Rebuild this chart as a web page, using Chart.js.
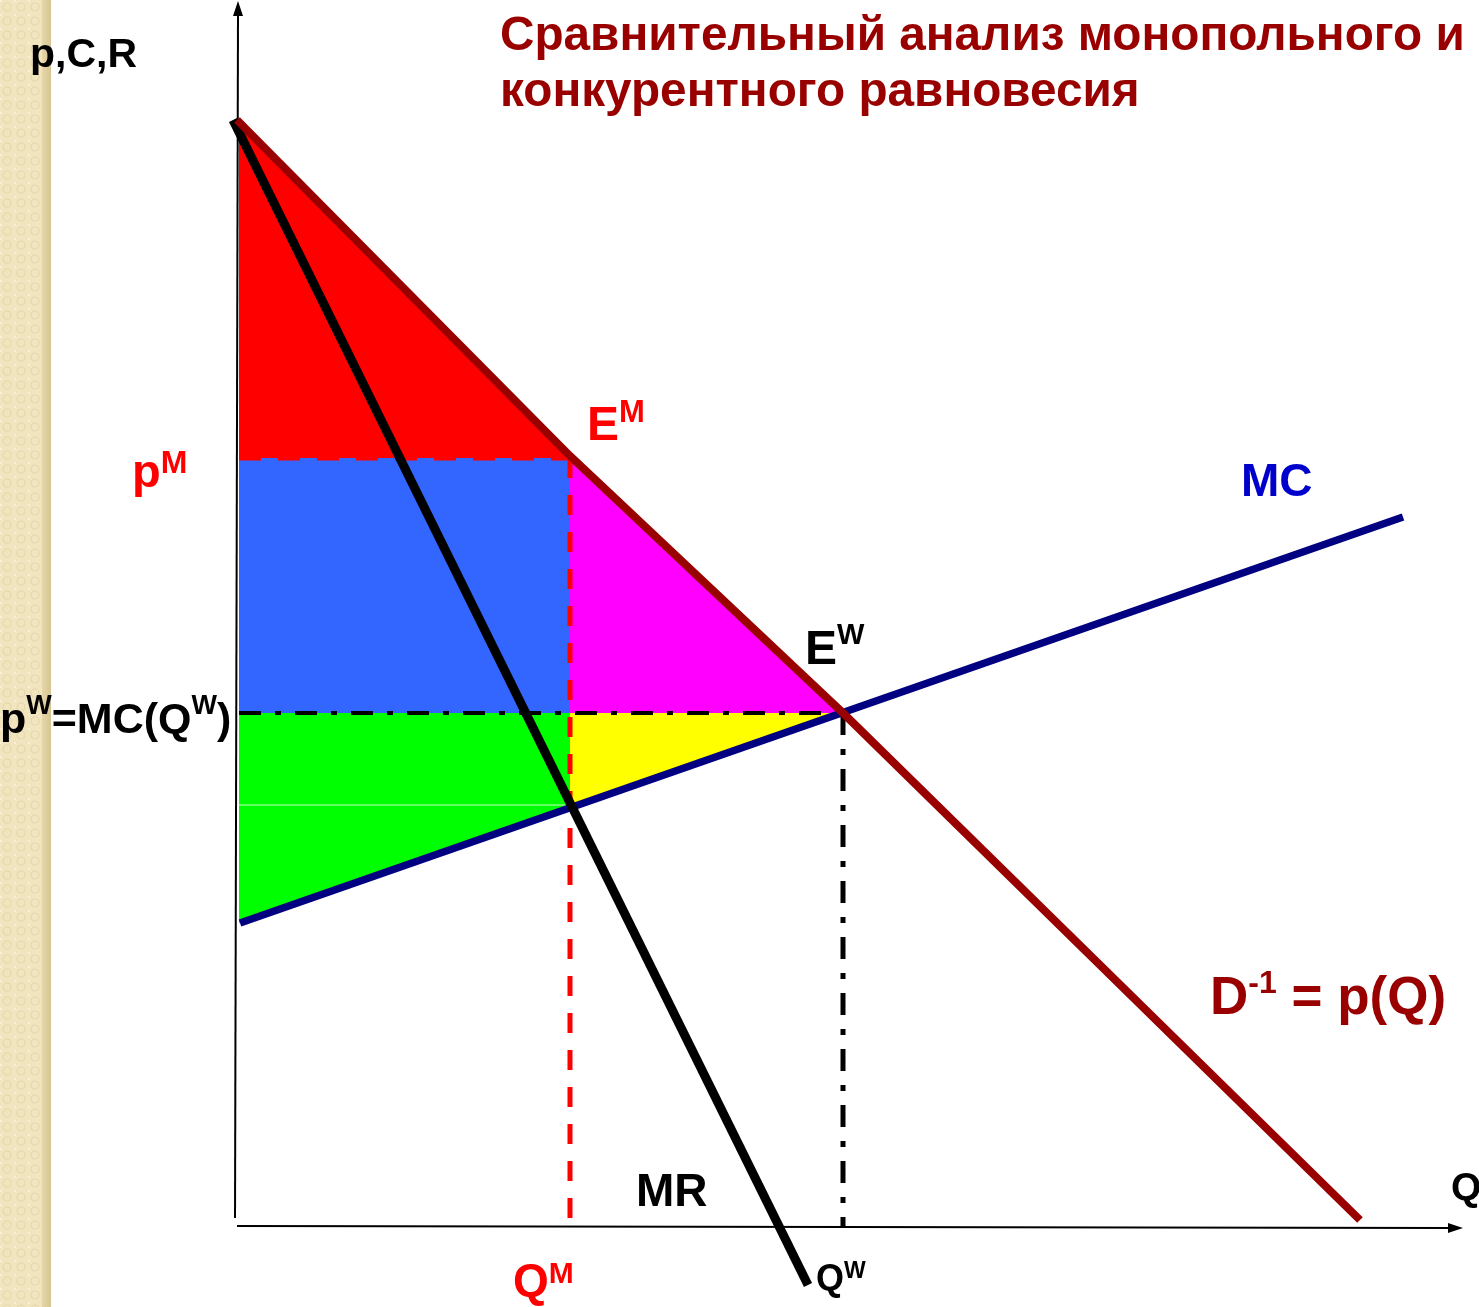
<!DOCTYPE html>
<html>
<head>
<meta charset="utf-8">
<script src="https://cdn.jsdelivr.net/npm/chart.js@4.4.1/dist/chart.umd.min.js"></script>
<style>
  html, body { margin: 0; padding: 0; background: #ffffff; overflow: hidden; }
  canvas { display: block; }
</style>
</head>
<body>
<canvas id="c" width="1479" height="1307"></canvas>
<script>
// ---- values (Q along x, p along y) ----
const qAxisLine   = [[0, 0], [1213, -2]];
const pAxisLine   = [[-2, 8], [1, 1212]];
const demandQ     = [0, 333, 606, 1123];
const demandP     = [1106, 770, 513, 6];
const mrQ         = [-4, 571];
const mrP         = [1106, -59];
const mcQ         = [3, 1166];
const mcP         = [303, 709];
const pMono = 768, qMono = 333;
const pComp = 513, qComp = 606;
const mcAtQMono = 421;
const fillStartQ = 2;

const pts = (qs, ps) => qs.map((q, i) => ({ x: q, y: ps[i] }));
const poly = arr => arr.concat([arr[0]]).map(([x, y]) => ({ x, y }));

const redArea     = poly([[fillStartQ, 1104], [qMono, pMono], [fillStartQ, pMono]]);
const blueArea    = poly([[fillStartQ, pMono], [qMono, pMono], [qMono, pComp], [fillStartQ, pComp]]);
const magentaArea = poly([[qMono, pMono], [qComp, pComp], [qMono, pComp]]);
const yellowArea  = poly([[qMono, pComp], [qComp, pComp], [qMono, mcAtQMono]]);
const greenTop    = poly([[fillStartQ, pComp], [qMono, pComp], [qMono, mcAtQMono], [fillStartQ, mcAtQMono]]);
const greenBottom = poly([[fillStartQ, mcAtQMono], [qMono, mcAtQMono], [fillStartQ, mcP[0]]]);

function area(data, color) {
  return { data, showLine: true, fill: 'shape', backgroundColor: color,
           borderColor: 'transparent', borderWidth: 0, pointRadius: 0, order: 10, tension: 0 };
}
function line(data, color, width, dash, order) {
  return { data, showLine: true, fill: false, borderColor: color, borderWidth: width,
           borderDash: dash || [], pointRadius: 0, order: order || 2, tension: 0 };
}

// ---- background + left strip ----
const bgPlugin = {
  id: 'bg',
  beforeDraw(chart) {
    const ctx = chart.ctx;
    ctx.save();
    ctx.fillStyle = '#ffffff';
    ctx.fillRect(0, 0, chart.width, chart.height);
    const tile = document.createElement('canvas');
    tile.width = 14; tile.height = 14;
    const t = tile.getContext('2d');
    t.fillStyle = '#f1e5c0'; t.fillRect(0, 0, 14, 14);
    t.strokeStyle = '#e6d7aa'; t.lineWidth = 1.2;
    t.beginPath(); t.arc(7, 7, 4, 0, Math.PI * 2); t.stroke();
    t.fillStyle = '#f8efd4'; t.fillRect(0, 0, 2, 2);
    ctx.fillStyle = ctx.createPattern(tile, 'repeat');
    ctx.fillRect(0, 0, 45, chart.height);
    const g = ctx.createLinearGradient(42, 0, 51, 0);
    g.addColorStop(0, '#e6d6a8'); g.addColorStop(1, '#d6c494');
    ctx.fillStyle = g;
    ctx.fillRect(42, 0, 9, chart.height);
    ctx.restore();
  }
};

// ---- arrowheads + texts ----
function rich(ctx, x, y, parts, color) {
  ctx.fillStyle = color;
  ctx.textBaseline = 'alphabetic';
  ctx.textAlign = 'left';
  let cx = x;
  for (const p of parts) {
    ctx.font = 'bold ' + p.s + 'px "Liberation Sans", Arial, sans-serif';
    ctx.fillText(p.t, cx, y - (p.r || 0));
    cx += ctx.measureText(p.t).width;
  }
}
const overlayPlugin = {
  id: 'overlay',
  afterDatasetsDraw(chart) {
    const ctx = chart.ctx, xs = chart.scales.x, ys = chart.scales.y;
    ctx.save();
    // arrowheads
    ctx.fillStyle = '#000';
    const yx = xs.getPixelForValue(pAxisLine[1][0]), yy = ys.getPixelForValue(pAxisLine[1][1]);
    ctx.beginPath(); ctx.moveTo(yx, yy - 13); ctx.lineTo(yx - 5, yy + 2); ctx.lineTo(yx + 5, yy + 2); ctx.closePath(); ctx.fill();
    const xx = xs.getPixelForValue(qAxisLine[1][0]), xy = ys.getPixelForValue(qAxisLine[1][1]);
    ctx.beginPath(); ctx.moveTo(xx + 13, xy); ctx.lineTo(xx - 2, xy - 5); ctx.lineTo(xx - 2, xy + 5); ctx.closePath(); ctx.fill();

    // title
    const title1 = 'Сравнительный анализ монопольного и';
    const title2 = 'конкурентного равновесия';
    ctx.font = 'bold 44px "Liberation Sans", Arial, sans-serif';
    const w = ctx.measureText(title1).width;
    const ts = Math.max(38, Math.min(50, 44 * 965 / w));
    rich(ctx, 500, 50, [{ t: title1, s: ts }], '#990000');
    rich(ctx, 500, 106, [{ t: title2, s: ts }], '#990000');

    rich(ctx, 30, 67, [{ t: 'p,C,R', s: 41 }], '#000');
    rich(ctx, 132, 487, [{ t: 'p', s: 47 }, { t: 'M', s: 32, r: 14 }], '#ff0000');
    rich(ctx, 587, 440, [{ t: 'E', s: 48 }, { t: 'M', s: 31, r: 18 }], '#ff0000');
    rich(ctx, 805, 664, [{ t: 'E', s: 48 }, { t: 'W', s: 29, r: 20 }], '#000');
    rich(ctx, 1241, 496, [{ t: 'MC', s: 46 }], '#0000cc');
    rich(ctx, 0, 733, [{ t: 'p', s: 43 }, { t: 'W', s: 27, r: 19 }, { t: '=MC(Q', s: 43 }, { t: 'W', s: 27, r: 19 }, { t: ')', s: 43 }], '#000');
    rich(ctx, 1210, 1014, [{ t: 'D', s: 53 }, { t: '-1', s: 32, r: 21 }, { t: ' = p(Q)', s: 53 }], '#990000');
    rich(ctx, 636, 1206, [{ t: 'MR', s: 46 }], '#000');
    rich(ctx, 513, 1296, [{ t: 'Q', s: 46 }, { t: 'M', s: 30, r: 13 }], '#ff0000');
    rich(ctx, 816, 1290, [{ t: 'Q', s: 36 }, { t: 'W', s: 23, r: 12 }], '#000');
    rich(ctx, 1451, 1200, [{ t: 'Q', s: 39 }], '#000');
    ctx.restore();
  }
};

new Chart(document.getElementById('c'), {
  type: 'scatter',
  data: {
    datasets: [
      line(pts(demandQ, demandP), '#990000', 8, null, 1),
      line(pts(mrQ, mrP), '#000000', 9, null, 0),
      line(pts(mcQ, mcP), '#000080', 7.5, null, 0),
      line([{ x: fillStartQ, y: pMono }, { x: qMono, y: pMono }], '#ff0000', 5, [22, 17], 3),
      line([{ x: qMono, y: pMono }, { x: qMono, y: 0 }], '#ff0000', 5, [20, 17], 3),
      line([{ x: fillStartQ, y: pComp }, { x: qComp, y: pComp }], '#000000', 4, [22, 14, 6, 14], 3),
      line([{ x: qComp, y: pComp }, { x: qComp, y: 0 }], '#000000', 5, [22, 14, 6, 14], 3),
      line([{ x: fillStartQ, y: mcAtQMono }, { x: qMono - 4, y: mcAtQMono }], 'rgba(220,255,220,0.9)', 1, null, 5),
      line(qAxisLine.map(([x, y]) => ({ x, y })), '#000000', 2, null, 4),
      line(pAxisLine.map(([x, y]) => ({ x, y })), '#000000', 2, null, 4),
      area(redArea, '#ff0000'),
      area(blueArea, '#3366ff'),
      area(magentaArea, '#ff00ff'),
      area(yellowArea, '#ffff00'),
      area(greenTop, '#00ff00'),
      area(greenBottom, '#00ff00')
    ]
  },
  options: {
    responsive: false,
    animation: false,
    devicePixelRatio: 1,
    layout: { padding: 0 },
    plugins: { legend: { display: false }, tooltip: { enabled: false }, title: { display: false } },
    events: [],
    scales: {
      x: { type: 'linear', min: -237, max: 1242, display: false },
      y: { type: 'linear', min: -81, max: 1226, display: false }
    },
    elements: { line: { borderCapStyle: 'butt', borderJoinStyle: 'miter' } }
  },
  plugins: [bgPlugin, overlayPlugin]
});
</script>
</body>
</html>
